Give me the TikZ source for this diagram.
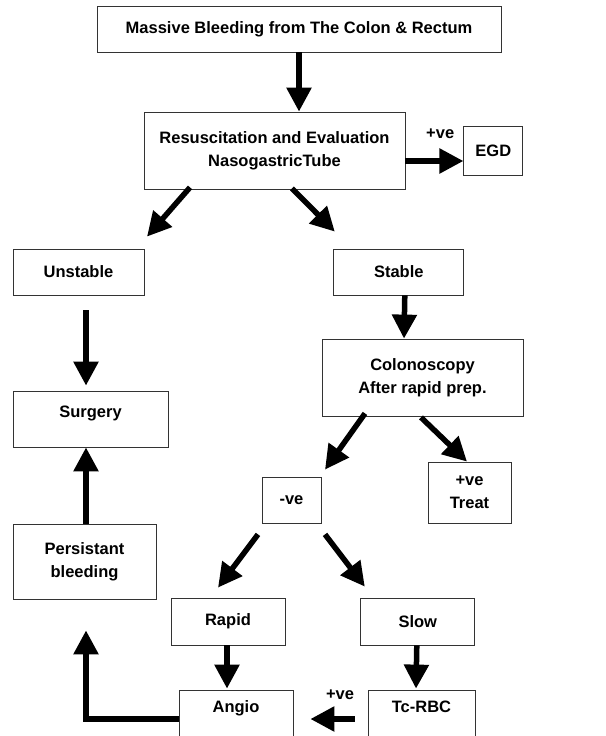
\documentclass[tikz,border=0pt]{standalone}
\usepackage{fontspec}
\setmainfont{Liberation Sans}
\usepackage{tikz}
\usetikzlibrary{arrows.meta, positioning, calc}
\tikzset{
  flowbox/.style={draw=black!80, line width=0.8pt, align=center, inner sep=2pt, font=\fontsize{16.5}{23}\selectfont\bfseries},
  flowarrow/.style={-{Triangle[width=24pt,length=24pt]}, line width=5.5pt},
  edgelabel/.style={inner sep=0pt, font=\fontsize{16.5}{23}\selectfont\bfseries},
}

\begin{document}
\begin{tikzpicture}[x=1pt, y=-1pt]
  \useasboundingbox (0,0) rectangle (605,736);
  % boxes
  \node[flowbox, minimum width=404pt, minimum height=46pt] (massive) at (299,29) {Massive Bleeding from The Colon \& Rectum};
  \node[flowbox, minimum width=261pt, minimum height=77pt] (resus) at (274.5,150.5) {Resuscitation and Evaluation\\NasogastricTube};
  \node[flowbox, minimum width=59pt, minimum height=49pt, right=58pt of resus] (egd) {EGD};
  \node[flowbox, minimum width=131pt, minimum height=46pt] (unstable) at (78.5,272) {Unstable};
  \node[flowbox, minimum width=130pt, minimum height=46pt, right=189pt of unstable] (stable) {Stable};
  \node[flowbox, minimum width=155pt, minimum height=56pt, text depth=14pt] (surgery) at (90.5,419) {Surgery};
  \node[flowbox, minimum width=201pt, minimum height=77pt] (colon) at (422.5,377.5) {Colonoscopy\\After rapid prep.};
  \node[flowbox, minimum width=83pt, minimum height=61pt] (treat) at (469.5,492.5) {+ve\\Treat};
  \node[flowbox, minimum width=59pt, minimum height=46pt] (neg) at (291.5,500) {-ve};
  \node[flowbox, minimum width=143pt, minimum height=75pt] (persist) at (84.5,561.5) {Persistant\\bleeding};
  \node[flowbox, minimum width=114pt, minimum height=47pt] (rapid) at (228,621.5) {Rapid};
  \node[flowbox, minimum width=114pt, minimum height=47pt, right=75pt of rapid] (slow) {Slow};
  \node[flowbox, minimum width=114pt, minimum height=48pt, text depth=15pt] (angio) at (236,714) {Angio};
  \node[flowbox, minimum width=107pt, minimum height=48pt, text depth=15pt] (tcrbc) at (421.5,714) {Tc-RBC};
  % arrows
  \draw[flowarrow] (massive.south) -- (massive.south |- resus.north);
  \draw[flowarrow] ($(resus.east)+(0,10.5)$) -- ($(egd.west |- resus.east)+(0,10.5)$) node[edgelabel, pos=0.6, above=20pt] {+ve};
  \draw[flowarrow] ($(resus.south)+(-84.5,-2)$) -- ($(unstable.north)+(68.5,-12)$);
  \draw[flowarrow] ($(resus.south)+(17.5,-1)$) -- ($(stable.north)+(-64,-17)$);
  \draw[flowarrow] ($(unstable.south)+(7.5,15)$) -- ($(surgery.north)+(-4.5,-5)$);
  \draw[flowarrow] ($(persist.north)+(1.5,0)$) -- ($(surgery.south)+(-4.5,0)$);
  \draw[flowarrow] ($(stable.south)+(6,0)$) -- ($(colon.north)+(-18.5,0)$);
  \draw[flowarrow] ($(colon.south)+(-57.5,-3)$) -- ($(neg.north)+(33.5,-7)$);
  \draw[flowarrow] ($(colon.south)+(-1.5,1)$) -- ($(treat.north)+(-2.5,0)$);
  \draw[flowarrow] ($(neg.south)+(-33.5,11)$) -- ($(rapid.north)+(-10,-10)$);
  \draw[flowarrow] ($(neg.south)+(33.5,11)$) -- ($(slow.north)+(-53,-11)$);
  \draw[flowarrow] ($(rapid.south)+(-1,0)$) -- ($(angio.north)+(-9,-1)$);
  \draw[flowarrow] ($(slow.south)+(-1,0)$) -- ($(tcrbc.north)+(-5.5,-1)$);
  \draw[flowarrow] ($(tcrbc.west)+(-13,5)$) -- ($(angio.east)+(17,5)$) node[edgelabel, pos=0.33, above=17pt] {+ve};
  \draw[flowarrow] ($(angio.west)+(0,5)$) -| ($(persist.south)+(1.5,31)$);
\end{tikzpicture}
\end{document}
